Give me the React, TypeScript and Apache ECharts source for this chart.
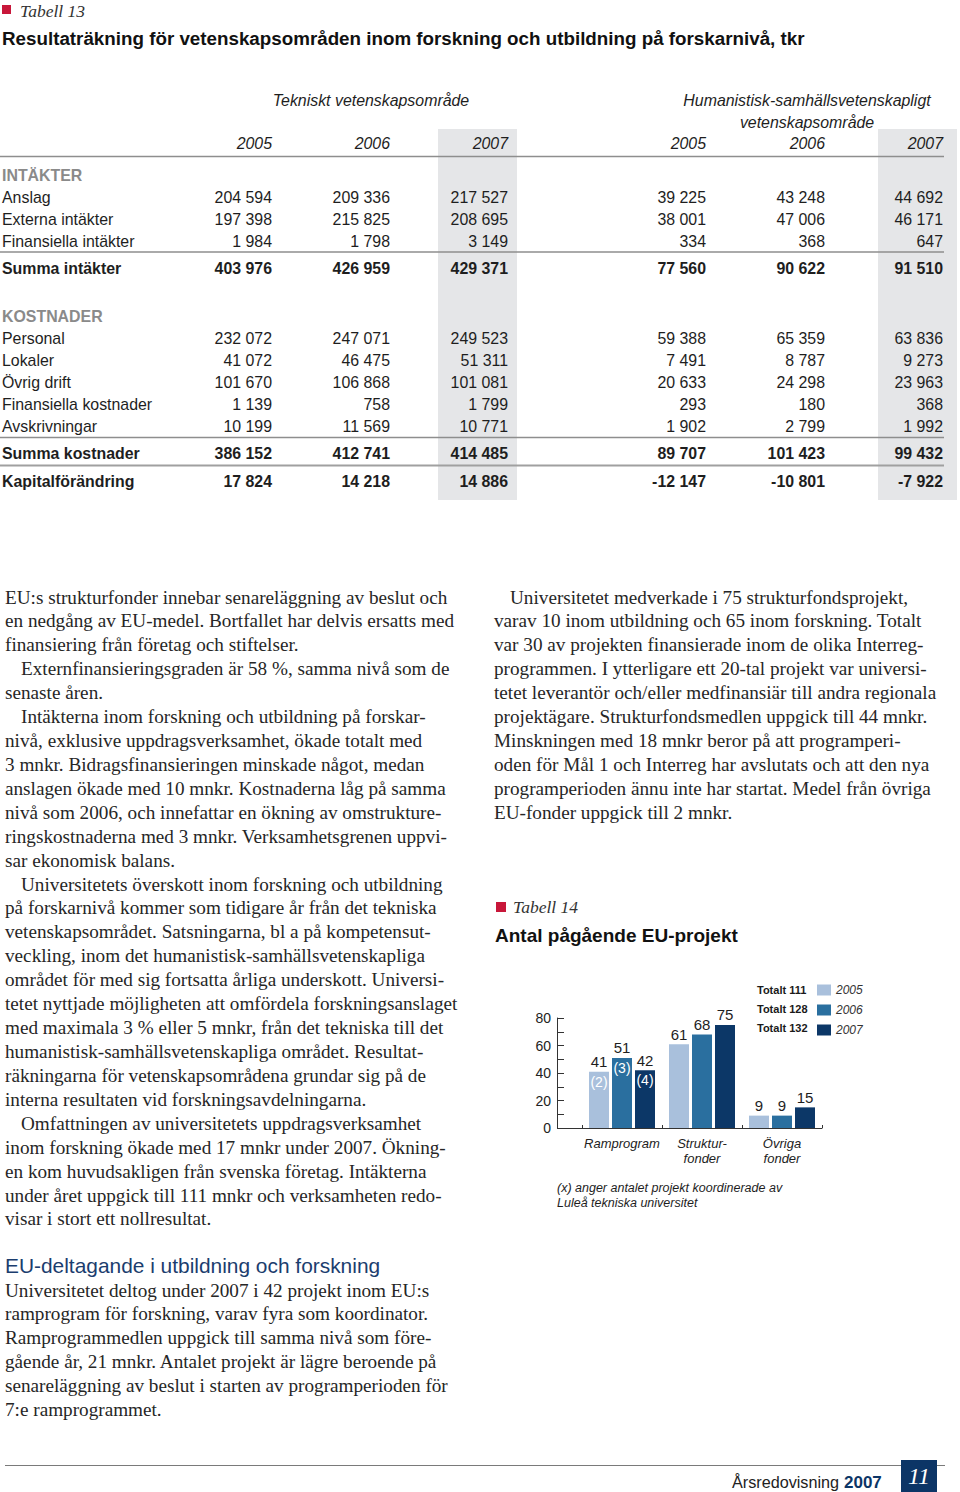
import React, { useEffect, useRef } from "react";
import * as echarts from "echarts";

// ---------- Tabell 13 data ----------
const groupTitles = ["Tekniskt vetenskapsområde", "Humanistisk-samhällsvetenskapligt\nvetenskapsområde"];
const colYears = ["2005", "2006", "2007", "2005", "2006", "2007"];
const incomeLabels = ["Anslag", "Externa intäkter", "Finansiella intäkter"];
const incomeValues = [
  [204594, 209336, 217527, 39225, 43248, 44692],
  [197398, 215825, 208695, 38001, 47006, 46171],
  [1984, 1798, 3149, 334, 368, 647],
];
const incomeTotal = [403976, 426959, 429371, 77560, 90622, 91510];
const costLabels = ["Personal", "Lokaler", "Övrig drift", "Finansiella kostnader", "Avskrivningar"];
const costValues = [
  [232072, 247071, 249523, 59388, 65359, 63836],
  [41072, 46475, 51311, 7491, 8787, 9273],
  [101670, 106868, 101081, 20633, 24298, 23963],
  [1139, 758, 1799, 293, 180, 368],
  [10199, 11569, 10771, 1902, 2799, 1992],
];
const costTotal = [386152, 412741, 414485, 89707, 101423, 99432];
const capitalChange = [17824, 14218, 14886, -12147, -10801, -7922];

// ---------- Tabell 14 data ----------
const categories = ["Ramprogram", "Struktur-\nfonder", "Övriga\nfonder"];
const years = ["2005", "2006", "2007"];
const projects2005 = [41, 61, 9];
const projects2006 = [51, 68, 9];
const projects2007 = [42, 75, 15];
const coordinated2005 = [2, null, null];
const coordinated2006 = [3, null, null];
const coordinated2007 = [4, null, null];
const yAxisMax = 80;
const yAxisInterval = 20;

// ---------- Body text ----------
const leftColumn = [
  "EU:s strukturfonder innebar senareläggning av beslut och",
  "en nedgång av EU-medel. Bortfallet har delvis ersatts med",
  "finansiering från företag och stiftelser.",
  ">Externfinansieringsgraden är 58 %, samma nivå som de",
  "senaste åren.",
  ">Intäkterna inom forskning och utbildning på forskar-",
  "nivå, exklusive uppdragsverksamhet, ökade totalt med",
  "3 mnkr. Bidragsfinansieringen minskade något, medan",
  "anslagen ökade med 10 mnkr. Kostnaderna låg på samma",
  "nivå som 2006, och innefattar en ökning av omstrukture-",
  "ringskostnaderna med 3 mnkr. Verksamhetsgrenen uppvi-",
  "sar ekonomisk balans.",
  ">Universitetets överskott inom forskning och utbildning",
  "på forskarnivå kommer som tidigare år från det tekniska",
  "vetenskapsområdet. Satsningarna, bl a på kompetensut-",
  "veckling, inom det humanistisk-samhällsvetenskapliga",
  "området för med sig fortsatta årliga underskott. Universi-",
  "tetet nyttjade möjligheten att omfördela forskningsanslaget",
  "med maximala 3 % eller 5 mnkr, från det tekniska till det",
  "humanistisk-samhällsvetenskapliga området. Resultat-",
  "räkningarna för vetenskapsområdena grundar sig på de",
  "interna resultaten vid forskningsavdelningarna.",
  ">Omfattningen av universitetets uppdragsverksamhet",
  "inom forskning ökade med 17 mnkr under 2007. Ökning-",
  "en kom huvudsakligen från svenska företag. Intäkterna",
  "under året uppgick till 111 mnkr och verksamheten redo-",
  "visar i stort ett nollresultat.",
];
const rightColumn = [
  ">Universitetet medverkade i 75 strukturfondsprojekt,",
  "varav 10 inom utbildning och 65 inom forskning. Totalt",
  "var 30 av projekten finansierade inom de olika Interreg-",
  "programmen. I ytterligare ett 20-tal projekt var universi-",
  "tetet leverantör och/eller medfinansiär till andra regionala",
  "projektägare. Strukturfondsmedlen uppgick till 44 mnkr.",
  "Minskningen med 18 mnkr beror på att programperi-",
  "oden för Mål 1 och Interreg har avslutats och att den nya",
  "programperioden ännu inte har startat. Medel från övriga",
  "EU-fonder uppgick till 2 mnkr.",
];
const euHeading = "EU-deltagande i utbildning och forskning";
const euColumn = [
  "Universitetet deltog under 2007 i 42 projekt inom EU:s",
  "ramprogram för forskning, varav fyra som koordinator.",
  "Ramprogrammedlen uppgick till samma nivå som före-",
  "gående år, 21 mnkr. Antalet projekt är lägre beroende på",
  "senareläggning av beslut i starten av programperioden för",
  "7:e ramprogrammet.",
];

const SANS = '"Liberation Sans", Arial, Helvetica, sans-serif';
const SERIF = '"Liberation Serif", "Times New Roman", serif';
const RED = "#c8173a";
const NAVY = "#0c3566";
const C2005 = "#a9c0dc";
const C2006 = "#2a6f9f";
const C2007 = "#0c3767";

const fmt = (n: number) => {
  const s = Math.abs(n).toString().replace(/\B(?=(\d{3})+(?!\d))/g, " ");
  return (n < 0 ? "-" : "") + s;
};

type TO = { size?: number; fill?: string; weight?: string; style?: string; family?: string; align?: string; lh?: number };
function txt(x: number, y: number, text: string, o: TO = {}) {
  const align = o.align || "left";
  const st: any = {
    text,
    fill: o.fill || "#1e1e1e",
    fontSize: o.size || 15.9,
    fontFamily: o.family || SANS,
    fontWeight: o.weight || "normal",
    fontStyle: o.style || "normal",
    align,
    verticalAlign: "middle",
    textAlign: align,
    textVerticalAlign: "middle",
  };
  if (o.lh) st.lineHeight = o.lh;
  return { type: "text", x, y, silent: true, z: 10, style: st };
}
function hline(x1: number, x2: number, y: number, w: number, color: string) {
  return { type: "line", silent: true, z: 5, shape: { x1, y1: y, x2, y2: y }, style: { stroke: color, lineWidth: w } };
}
function rect(x: number, y: number, w: number, h: number, fill: string, z = 1) {
  return { type: "rect", silent: true, z, shape: { x, y, width: w, height: h }, style: { fill } };
}

function buildGraphics() {
  const g: any[] = [];
  // ---- Table 13 ----
  g.push(rect(2, 5, 9, 9, RED));
  g.push(txt(20, 11, "Tabell 13", { family: SERIF, style: "italic", size: 17.5, fill: "#333" }));
  g.push(txt(2, 38, "Resultaträkning för vetenskapsområden inom forskning och utbildning på forskarnivå, tkr", { weight: "bold", size: 18.8, fill: "#111" }));
  g.push(rect(438, 129, 79, 371, "#e5e6e8", 0));
  g.push(rect(878, 129, 79, 371, "#e5e6e8", 0));
  g.push(txt(371, 100, groupTitles[0], { style: "italic", align: "center" }));
  g.push(txt(807, 111, groupTitles[1], { style: "italic", align: "center", lh: 22 }));
  const colX = [272, 390, 508, 706, 825, 943];
  colYears.forEach((yr, i) => g.push(txt(colX[i], 143, yr, { style: "italic", align: "right" })));
  g.push(hline(0, 944, 156.5, 1.5, "#8e8e8e"));
  g.push(txt(2, 175, "INTÄKTER", { weight: "bold", fill: "#8a8a8a" }));
  const rowOf = (y: number, label: string, vals: number[], bold = false) => {
    g.push(txt(2, y, label, { weight: bold ? "bold" : "normal" }));
    vals.forEach((v, i) => g.push(txt(colX[i], y, fmt(v), { align: "right", weight: bold ? "bold" : "normal" })));
  };
  incomeLabels.forEach((l, i) => rowOf(197 + i * 22, l, incomeValues[i]));
  g.push(hline(0, 944, 252, 1.3, "#8e8e8e"));
  rowOf(268, "Summa intäkter", incomeTotal, true);
  g.push(txt(2, 316, "KOSTNADER", { weight: "bold", fill: "#8a8a8a" }));
  costLabels.forEach((l, i) => rowOf(338 + i * 22, l, costValues[i]));
  g.push(hline(0, 944, 437.5, 1.3, "#8e8e8e"));
  rowOf(453, "Summa kostnader", costTotal, true);
  g.push(hline(0, 944, 465.5, 2.2, "#a0a0a0"));
  rowOf(481, "Kapitalförändring", capitalChange, true);

  // ---- Body columns ----
  const lineGap = 23.92;
  const col = (lines: string[], x0: number, y0: number) => {
    lines.forEach((l, i) => {
      const ind = l.startsWith(">");
      g.push(txt(x0 + (ind ? 16 : 0), y0 + i * lineGap, ind ? l.slice(1) : l, { family: SERIF, size: 19.2, fill: "#262626" }));
    });
  };
  col(leftColumn, 5, 597);
  col(rightColumn, 494, 597);
  g.push(txt(5, 1265, euHeading, { size: 20.9, fill: "#1b3d6e" }));
  col(euColumn, 5, 1290);

  // ---- Table 14 titles ----
  g.push(rect(496, 902, 10, 10, RED));
  g.push(txt(513, 907, "Tabell 14", { family: SERIF, style: "italic", size: 17.5, fill: "#333" }));
  g.push(txt(495, 935, "Antal pågående EU-projekt", { weight: "bold", size: 19, fill: "#111" }));
  // totals beside legend
  const totals = [projects2005, projects2006, projects2007].map((a) => a.reduce((s, v) => s + v, 0));
  totals.forEach((t, i) => g.push(txt(757, 989.5 + i * 19, "Totalt " + t, { weight: "bold", size: 11, fill: "#1a1a1a" })));
  // x-axis extension to y-axis
  g.push({ type: "line", silent: true, z: 5, shape: { x1: 557, y1: 1128.5, x2: 582, y2: 1128.5 }, style: { stroke: "#333", lineWidth: 1 } });
  g.push(txt(557, 1188, "(x) anger antalet projekt koordinerade av", { style: "italic", size: 12.5 }));
  g.push(txt(557, 1203, "Luleå tekniska universitet", { style: "italic", size: 12.5 }));

  // ---- Footer ----
  g.push(hline(5, 945, 1465.5, 1, "#7a7a7a"));
  g.push(rect(901, 1460, 36, 32, NAVY, 6));
  g.push(txt(919, 1476, "11", { family: SERIF, style: "italic", size: 24, fill: "#fff", align: "center" }));
  g.push(txt(732, 1482, "Årsredovisning", { size: 16.2, fill: "#222" }));
  g.push(txt(844, 1482, "2007", { size: 17, weight: "bold", fill: NAVY }));
  return g;
}

export default function App() {
  const ref = useRef<HTMLDivElement>(null);
  useEffect(() => {
    if (!ref.current) return;
    const chart = echarts.init(ref.current, undefined, { renderer: "svg" });
    const seriesDefs = [
      { name: years[0], values: projects2005, coord: coordinated2005, color: C2005 },
      { name: years[1], values: projects2006, coord: coordinated2006, color: C2006 },
      { name: years[2], values: projects2007, coord: coordinated2007, color: C2007 },
    ];
    const option: any = {
      animation: false,
      backgroundColor: "#ffffff",
      textStyle: { fontFamily: SANS },
      graphic: { elements: buildGraphics() },
      legend: {
        data: years,
        orient: "vertical",
        left: 817,
        top: 984,
        padding: 0,
        itemWidth: 14,
        itemHeight: 11,
        itemGap: 8,
        icon: "rect",
        selectedMode: false,
        textStyle: { fontStyle: "italic", fontSize: 12, color: "#333", lineHeight: 11, fontFamily: SANS },
      },
      grid: { left: 582, top: 1018, width: 240, height: 110, containLabel: false },
      xAxis: {
        type: "category",
        data: categories,
        axisLine: { lineStyle: { color: "#333", width: 1 } },
        axisTick: { show: true, inside: true, length: 3, lineStyle: { color: "#333" } },
        axisLabel: { interval: 0, fontStyle: "italic", fontSize: 13, color: "#222", margin: 8, lineHeight: 15, fontFamily: SANS },
      },
      yAxis: {
        type: "value",
        min: 0,
        max: yAxisMax,
        interval: yAxisInterval,
        offset: 25,
        axisLine: { show: true, lineStyle: { color: "#333", width: 1 } },
        axisTick: { show: true, inside: true, length: 7, lineStyle: { color: "#333" } },
        minorTick: { show: true, splitNumber: 2, length: 7, lineStyle: { color: "#333" } },
        splitLine: { show: false },
        axisLabel: { fontSize: 14, color: "#222", margin: 6, fontFamily: SANS },
      },
      series: seriesDefs.map((s) => ({
        type: "bar",
        name: s.name,
        barWidth: 20,
        barGap: "15%",
        itemStyle: { color: s.color },
        data: s.values.map((v, j) => ({ value: v, coord: s.coord[j] })),
        label: {
          show: true,
          position: "top",
          distance: 0,
          verticalAlign: "middle",
          formatter: (p: any) =>
            `{v|${p.value}}\n{c|${p.data.coord != null ? "(" + p.data.coord + ")" : " "}}`,
          rich: {
            v: { fontSize: 15, color: "#1e1e1e", lineHeight: 20, fontFamily: SANS },
            c: { fontSize: 14, color: "#ffffff", lineHeight: 20, fontFamily: SANS },
          },
        },
      })),
    };
    chart.setOption(option);
    return () => chart.dispose();
  }, []);
  return (
    <div
      ref={ref}
      style={{ position: "absolute", left: 0, top: 0, width: 960, height: 1492, background: "#fff" }}
    />
  );
}
